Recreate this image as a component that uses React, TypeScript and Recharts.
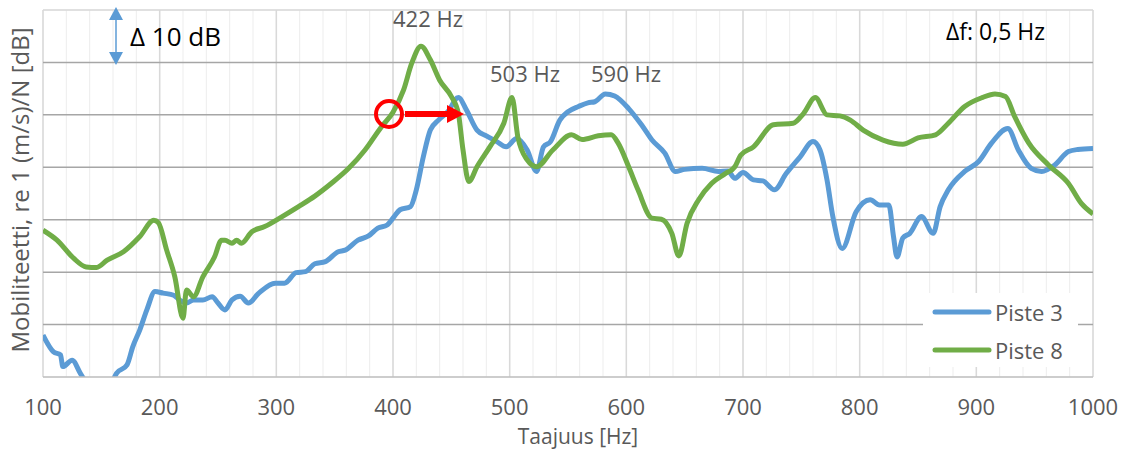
import React from "react";
import {
  LineChart,
  Line,
  XAxis,
  YAxis,
  CartesianGrid,
  ReferenceLine,
} from "recharts";

// frequency axis ticks (minor every 20 Hz, labels every 100 Hz)
const xMinorTicks = Array.from({ length: 46 }, (_, i) => 100 + i * 20);
const xMajorTicks = [100, 200, 300, 400, 500, 600, 700, 800, 900, 1000];
const yMinorTicks = Array.from({ length: 36 }, (_, i) => i * 2);
const yMajorTicks = [0, 10, 20, 30, 40, 50, 60, 70];

// Piste 3 (blue)
const piste3Freq = [
  100, 109, 115, 117, 125, 132, 140, 150, 158, 163, 172, 177, 183, 189, 196, 203,
  212, 217, 223, 229, 237, 245, 250, 256, 262, 269, 276, 285, 299, 307, 317, 325,
  333, 342, 353, 359, 370, 379, 387, 395, 401, 406, 415, 420, 426, 432, 439, 447,
  456, 463, 472, 480, 489, 497, 506, 515, 523, 529, 535, 543, 550, 559, 567, 573,
  582, 590, 602, 613, 622, 633, 642, 650, 665, 679, 687, 693, 700, 709, 717, 727,
  737, 749, 760, 766, 772, 777, 785, 797, 809, 817, 825, 829, 832, 837, 843, 853,
  863, 869, 876, 890, 902, 913, 927, 936, 947, 956, 967, 979, 987, 1000,
];
const piste3Db = [
  8.0, 4.8, 4.2, 2.0, 3.2, 0.7, -2, -3, -1.5, 0.7, 2.3, 5.8, 9.0, 12.8, 16.3, 16.0,
  15.6, 14.7, 14.1, 14.7, 14.7, 15.3, 14.1, 12.8, 14.7, 15.4, 14.1, 16.0, 17.9, 17.9, 19.9, 20.1,
  21.6, 22.0, 23.9, 24.2, 26.1, 26.9, 28.4, 29.0, 30.6, 31.9, 32.5, 35.7, 42.0, 47.1, 49.0, 50.6,
  53.3, 50.9, 47.1, 46.0, 44.9, 43.9, 45.5, 43.3, 39.2, 43.9, 44.9, 49.0, 50.6, 51.6, 52.3, 52.5,
  54.0, 53.6, 51.2, 48.1, 45.2, 42.7, 39.2, 39.6, 39.8, 39.2, 39.3, 37.9, 39.0, 37.6, 37.4, 35.7,
  38.8, 42.0, 44.9, 43.3, 37.6, 30.6, 24.5, 31.5, 33.8, 32.8, 32.8, 26.8, 22.9, 26.5, 27.4, 30.6,
  27.4, 32.5, 35.7, 39.2, 41.1, 44.6, 47.4, 43.3, 39.8, 39.2, 40.4, 43.0, 43.4, 43.6,
];

// Piste 8 (green)
const piste8Freq = [
  100, 112, 126, 137, 146, 155, 169, 183, 195, 199, 206, 213, 220, 223, 229, 237,
  247, 253, 256, 262, 266, 270, 279, 290, 305, 319, 333, 347, 362, 376, 390, 400,
  409, 416, 424, 432, 440, 450, 456, 460, 465, 472, 483, 495, 502, 507, 515, 523,
  537, 553, 562, 576, 587, 593, 602, 610, 622, 630, 639, 645, 652, 662, 673, 685,
  693, 698, 709, 726, 743, 752, 762, 772, 783, 792, 803, 820, 837, 850, 865, 876,
  890, 905, 916, 925, 933, 945, 962, 979, 990, 1000,
];
const piste8Db = [
  28.0, 26.1, 22.7, 21.0, 20.9, 22.3, 23.9, 26.8, 29.9, 29.4, 24.2, 19.1, 11.2, 16.6, 15.3, 19.1,
  22.9, 26.1, 26.1, 25.5, 26.1, 25.5, 27.7, 28.7, 30.6, 32.5, 34.5, 36.9, 39.8, 43.3, 47.7, 50.5,
  54.7, 59.8, 63.1, 60.5, 56.6, 53.5, 50.3, 43.3, 37.3, 40.1, 43.9, 48.4, 53.3, 45.8, 41.4, 40.1,
  43.3, 46.2, 45.3, 46.0, 46.2, 44.6, 40.1, 35.7, 30.3, 30.1, 27.4, 23.1, 29.3, 33.8, 36.9, 38.8,
  40.1, 42.3, 43.9, 48.1, 48.4, 50.3, 53.3, 50.0, 49.8, 49.0, 47.1, 45.2, 44.4, 45.6, 46.2, 48.4,
  51.6, 53.3, 54.0, 53.5, 49.6, 44.6, 40.4, 36.9, 33.1, 31.1,
];

const piste3 = piste3Freq.map((f, i) => ({ f, db: piste3Db[i] }));
const piste8 = piste8Freq.map((f, i) => ({ f, db: piste8Db[i] }));

const seriesNames = ["Piste 3", "Piste 8"];
const BLUE = "#5B9BD5";
const GREEN = "#70AD47";
const GRAY_TEXT = "#595959";
const FONT = '"Open Sans", sans-serif';

const ChartLegend: React.FC = () => (
  <div
    style={{
      position: "absolute",
      left: 923,
      top: 293,
      width: 155,
      height: 74,
      background: "#fff",
      boxSizing: "border-box",
      paddingTop: 0,
      paddingLeft: 9,
      fontFamily: FONT,
      fontSize: 22,
      color: GRAY_TEXT,
    }}
  >
    {seriesNames.map((name, i) => (
      <div key={name} style={{ display: "flex", alignItems: "center", height: 38 }}>
        <svg width={60} height={8} style={{ marginRight: 3 }}>
          <line x1={3} y1={4} x2={57} y2={4} stroke={i === 0 ? BLUE : GREEN} strokeWidth={5} strokeLinecap="round" />
        </svg>
        <span style={{ lineHeight: "38px" }}>{name}</span>
      </div>
    ))}
  </div>
);

const App: React.FC = () => {
  return (
    <div style={{ position: "absolute", left: 0, top: 0, width: 1130, height: 450, background: "#fff", fontFamily: FONT }}>
      <LineChart width={1130} height={450} margin={{ top: 10, right: 37, bottom: 0, left: 43 }}>
        <CartesianGrid stroke="#EDEDED" strokeWidth={1} />
        <XAxis
          dataKey="f"
          type="number"
          domain={[100, 1000]}
          ticks={xMinorTicks}
          interval={0}
          allowDataOverflow
          tickFormatter={(v: number) => (v % 100 === 0 ? String(v) : "")}
          tickLine={false}
          axisLine={{ stroke: "#BFBFBF", strokeWidth: 1.5 }}
          tick={{ fill: GRAY_TEXT, fontSize: 22, fontFamily: FONT }}
          tickMargin={16}
          height={73}
        />
        <YAxis
          type="number"
          domain={[0, 70]}
          ticks={yMinorTicks}
          allowDataOverflow
          width={0}
          tick={false}
          tickLine={false}
          axisLine={false}
        />
        {xMajorTicks.map((x) => (
          <ReferenceLine key={"vx" + x} x={x} stroke="#D9D9D9" strokeWidth={1.5} />
        ))}
        {yMajorTicks.slice(1, 7).map((y) => (
          <ReferenceLine key={"hy" + y} y={y} stroke="#A6A6A6" strokeWidth={1.5} />
        ))}
        <ReferenceLine y={70} stroke="#D9D9D9" strokeWidth={1.5} />
        <Line
          data={piste3}
          dataKey="db"
          name="Piste 3"
          type="monotone"
          stroke={BLUE}
          strokeWidth={5}
          dot={false}
          isAnimationActive={false}
        />
        <Line
          data={piste8}
          dataKey="db"
          name="Piste 8"
          type="monotone"
          stroke={GREEN}
          strokeWidth={5}
          dot={false}
          isAnimationActive={false}
        />
      </LineChart>

      <ChartLegend />

      {/* annotations */}
      <svg
        width={1130}
        height={450}
        style={{ position: "absolute", left: 0, top: 0, pointerEvents: "none" }}
      >
        <text
          transform="translate(29,190) rotate(-90)"
          textAnchor="middle"
          fontSize={24}
          fill={GRAY_TEXT}
          fontFamily={FONT}
        >
          Mobiliteetti, re 1 (m/s)/N [dB]
        </text>
        <text x={578} y={444} textAnchor="middle" fontSize={21} fill={GRAY_TEXT} fontFamily={FONT}>
          Taajuus [Hz]
        </text>

        {/* 10 dB scale arrow */}
        <line x1={116} y1={18} x2={116} y2={54} stroke={BLUE} strokeWidth={1.5} />
        <polygon points="116,7 109,20 123,20" fill={BLUE} />
        <polygon points="116,65 109,52 123,52" fill={BLUE} />
        <text x={130} y={46} fontSize={26} fill="#000" fontFamily={FONT}>
          Δ 10 dB
        </text>

        <text x={393} y={27} fontSize={22} fill={GRAY_TEXT} fontFamily={FONT}>422 Hz</text>
        <text x={490} y={82} fontSize={22} fill={GRAY_TEXT} fontFamily={FONT}>503 Hz</text>
        <text x={591} y={82} fontSize={22} fill={GRAY_TEXT} fontFamily={FONT}>590 Hz</text>
        <text x={946} y={40} fontSize={23} fill="#000" fontFamily={FONT}>Δf: 0,5 Hz</text>

        {/* shift marker */}
        <circle cx={389} cy={114} r={13} fill="none" stroke="#FF0000" strokeWidth={4} />
        <line x1={405} y1={114} x2={449} y2={114} stroke="#FF0000" strokeWidth={6} />
        <polygon points="464,114 447,105 447,123" fill="#FF0000" />
      </svg>
    </div>
  );
};

export default App;
